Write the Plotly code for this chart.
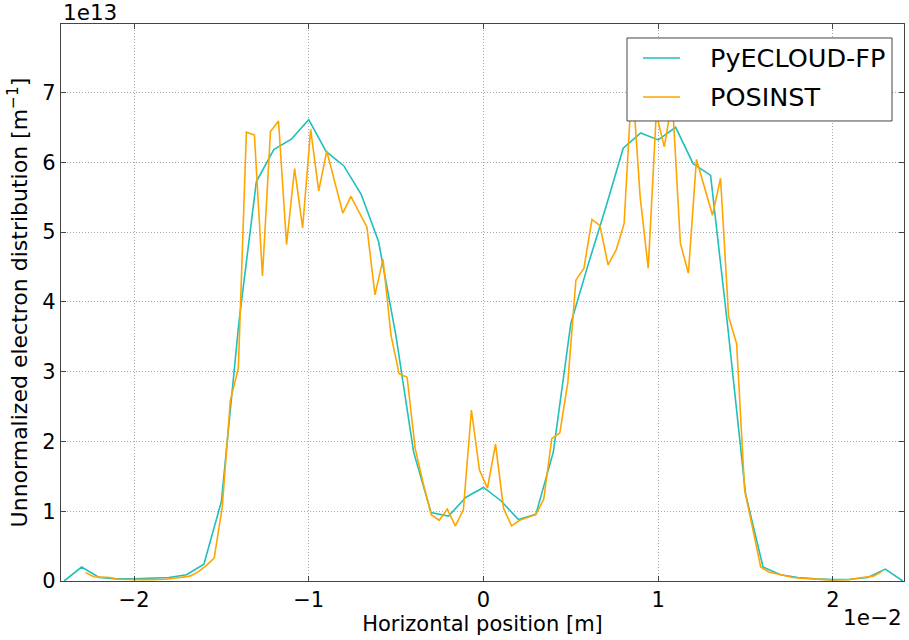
import numpy as np
import plotly.graph_objects as go

# Horizontal position grids (units of 1e-2 m)
x_pyecloud = np.round(np.arange(-2.4, 2.4001, 0.1), 3)
x_posinst = np.linspace(-2.277, 2.277, 100)

# Electron distribution (units of 1e13 m^-1)
y_pyecloud = [0.0, 0.2, 0.05, 0.03, 0.03, 0.04, 0.05, 0.09, 0.24, 1.14,
              3.7, 5.72, 6.18, 6.33, 6.61, 6.15, 5.95, 5.54, 4.86, 3.5,
              1.85, 0.98, 0.93, 1.2, 1.34, 1.15, 0.88, 0.955, 1.85, 3.69,
              4.54, 5.35, 6.2, 6.42, 6.32, 6.5, 5.98, 5.81, 3.6, 1.25,
              0.2, 0.09, 0.05, 0.03, 0.02, 0.025, 0.05, 0.17, 0.0]

y_posinst = [0.12, 0.06, 0.055, 0.05, 0.025, 0.02, 0.02, 0.02, 0.02, 0.02,
             0.025, 0.04, 0.055, 0.07, 0.13, 0.22, 0.33, 1.06, 2.58, 3.05,
             6.43, 6.39, 4.37, 6.44, 6.59, 4.82, 5.91, 5.06, 6.47, 5.59,
             6.16, 5.72, 5.27, 5.51, 5.29, 5.07, 4.10, 4.61, 3.52, 2.97,
             2.92, 1.90, 1.40, 0.95, 0.87, 1.03, 0.79, 1.02, 2.45, 1.59,
             1.33, 1.96, 1.04, 0.79, 0.87, 0.91, 0.95, 1.17, 2.04, 2.12,
             2.85, 4.31, 4.48, 5.18, 5.09, 4.53, 4.74, 5.12, 7.2, 5.5,
             4.48, 6.7, 6.22, 6.9, 4.84, 4.41, 6.04, 5.64, 5.24, 5.77,
             3.79, 3.40, 1.30, 0.75, 0.20, 0.13, 0.10, 0.07, 0.05, 0.04,
             0.03, 0.02, 0.02, 0.015, 0.015, 0.02, 0.04, 0.06, 0.07, 0.13]

series_names = ["PyECLOUD-FP", "POSINST"]
series_colors = ["#1fbfbb", "#ffa500"]

x_ticks = [-2, -1, 0, 1, 2]
x_ticktext = ["\u22122", "\u22121", "0", "1", "2"]
y_ticks = [0, 1, 2, 3, 4, 5, 6, 7]

FONT = "DejaVu Sans"

fig = go.Figure()
fig.add_trace(go.Scatter(x=x_pyecloud, y=y_pyecloud, mode="lines", name=series_names[0],
                         line=dict(color=series_colors[0], width=1.6), showlegend=False))
fig.add_trace(go.Scatter(x=x_posinst, y=y_posinst, mode="lines", name=series_names[1],
                         line=dict(color=series_colors[1], width=1.6), showlegend=False))

axis_common = dict(showline=True, linecolor="#444444", linewidth=1.2, mirror="ticks",
                   ticks="inside", ticklen=5, tickcolor="#444444", tickwidth=1,
                   showgrid=True, gridcolor="#a8a8a8", griddash="1px,2px", gridwidth=1,
                   zeroline=False, tickfont=dict(family=FONT, size=21, color="black"))

# Manual legend box (paper coordinates)
lx0, lx1, ly0, ly1 = 0.6714, 0.9858, 0.8259, 0.9749
line_x0, line_x1, text_x = 0.6904, 0.7343, 0.7675
row_y = [0.939, 0.869]

shapes = [dict(type="rect", xref="paper", yref="paper", x0=lx0, x1=lx1, y0=ly0, y1=ly1,
               fillcolor="white", line=dict(color="#444444", width=1), layer="above")]
annotations = []
for name, col, yy in zip(series_names, series_colors, row_y):
    shapes.append(dict(type="line", xref="paper", yref="paper", x0=line_x0, x1=line_x1,
                       y0=yy, y1=yy, line=dict(color=col, width=1.6), layer="above"))
    annotations.append(dict(text=name, x=text_x, y=yy, xref="paper", yref="paper",
                            xanchor="left", yanchor="middle", showarrow=False,
                            font=dict(family=FONT, size=25.5, color="black")))

annotations += [
    dict(text="1e13", x=0, y=1, xref="paper", yref="paper", xanchor="left", yanchor="bottom",
         showarrow=False, font=dict(family=FONT, size=21.5, color="black"), yshift=-3),
    dict(text="1e\u22122", x=1, y=0, xref="paper", yref="paper", xanchor="right", yanchor="top",
         showarrow=False, font=dict(family=FONT, size=21.5, color="black"), yshift=-22),
]

fig.update_layout(
    width=909, height=640,
    margin=dict(l=61, r=5, t=24, b=59),
    paper_bgcolor="white", plot_bgcolor="white",
    font=dict(family=FONT, color="black"),
    showlegend=False,
    xaxis=dict(range=[-2.418, 2.407], tickvals=x_ticks, ticktext=x_ticktext,
               title=dict(text="Horizontal position [m]", font=dict(family=FONT, size=21), standoff=4),
               **axis_common),
    yaxis=dict(range=[0, 7.98], tickvals=y_ticks,
               title=dict(text="Unnormalized electron distribution [m<sup>\u22121</sup>]",
                          font=dict(family=FONT, size=22), standoff=8),
               **axis_common),
    shapes=shapes,
    annotations=annotations,
)

fig.write_html("out.html")
